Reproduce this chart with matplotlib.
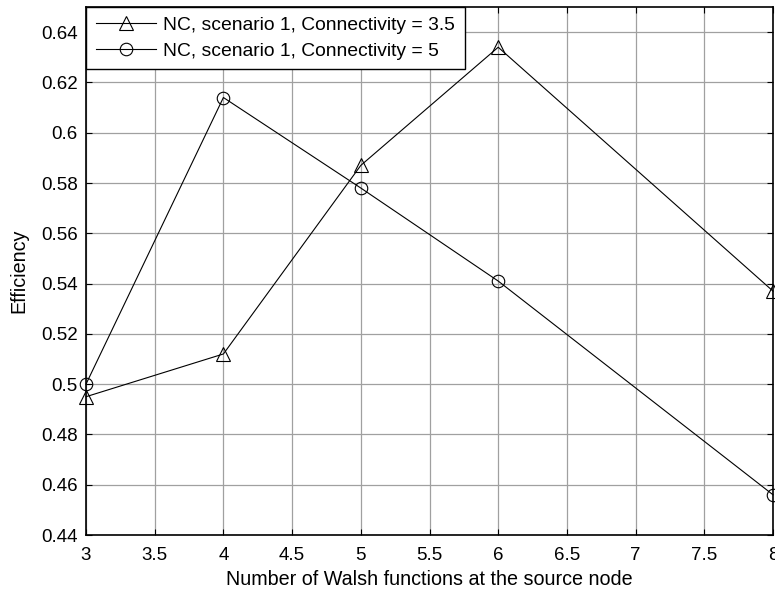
import numpy as np
import matplotlib
matplotlib.use("Agg")
import matplotlib.pyplot as plt

plt.rcParams['font.family'] = ['Liberation Sans', 'DejaVu Sans']

walsh = [3, 4, 5, 6, 8]
eff_conn35 = [0.495, 0.512, 0.587, 0.634, 0.537]
eff_conn5 = [0.500, 0.614, 0.578, 0.541, 0.456]
labels = ['NC, scenario 1, Connectivity = 3.5', 'NC, scenario 1, Connectivity = 5']

xticks = np.arange(3, 8.01, 0.5)
yticks = np.arange(0.44, 0.641, 0.02)
xtick_labels = ['3', '3.5', '4', '4.5', '5', '5.5', '6', '6.5', '7', '7.5', '8']
ytick_labels = ['0.44', '0.46', '0.48', '0.5', '0.52', '0.54', '0.56', '0.58', '0.6', '0.62', '0.64']

fig = plt.figure(figsize=(7.75, 5.92), dpi=100)
ax = fig.add_axes([86/775, 1 - 535/592, (773 - 86)/775, (535 - 7)/592])

ax.plot(walsh, eff_conn35, color='black', lw=0.8, marker='^', ms=9.5, mfc='none',
        mec='black', mew=0.8, clip_on=False, label=labels[0], zorder=3)
ax.plot(walsh, eff_conn5, color='black', lw=0.8, marker='o', ms=9, mfc='none',
        mec='black', mew=0.8, clip_on=False, label=labels[1], zorder=3)

ax.set_xlim(3, 8)
ax.set_ylim(0.44, 0.65)
ax.set_xticks(xticks)
ax.set_xticklabels(xtick_labels)
ax.set_yticks(yticks)
ax.set_yticklabels(ytick_labels)
ax.grid(True, color='#a0a0a0', lw=0.9, ls='-')
ax.set_axisbelow(True)
ax.tick_params(axis='both', direction='in', length=4, width=0.8, top=True, right=True,
               labelsize=13.5)
ax.tick_params(axis='x', pad=9)
ax.tick_params(axis='y', pad=6)
for s in ax.spines.values():
    s.set_linewidth(1.2)

ax.set_xlabel('Number of Walsh functions at the source node', fontsize=14.2, labelpad=4)
ax.set_ylabel('Efficiency', fontsize=14.2, labelpad=9)

leg = ax.legend(loc='upper left', fontsize=13.9, frameon=True, fancybox=False,
                edgecolor='black', framealpha=1, borderaxespad=0, handlelength=3.1,
                handletextpad=0.4, borderpad=0.5, labelspacing=0.42)
leg.get_frame().set_linewidth(1.0)

fig.savefig('out.png', dpi=100)
